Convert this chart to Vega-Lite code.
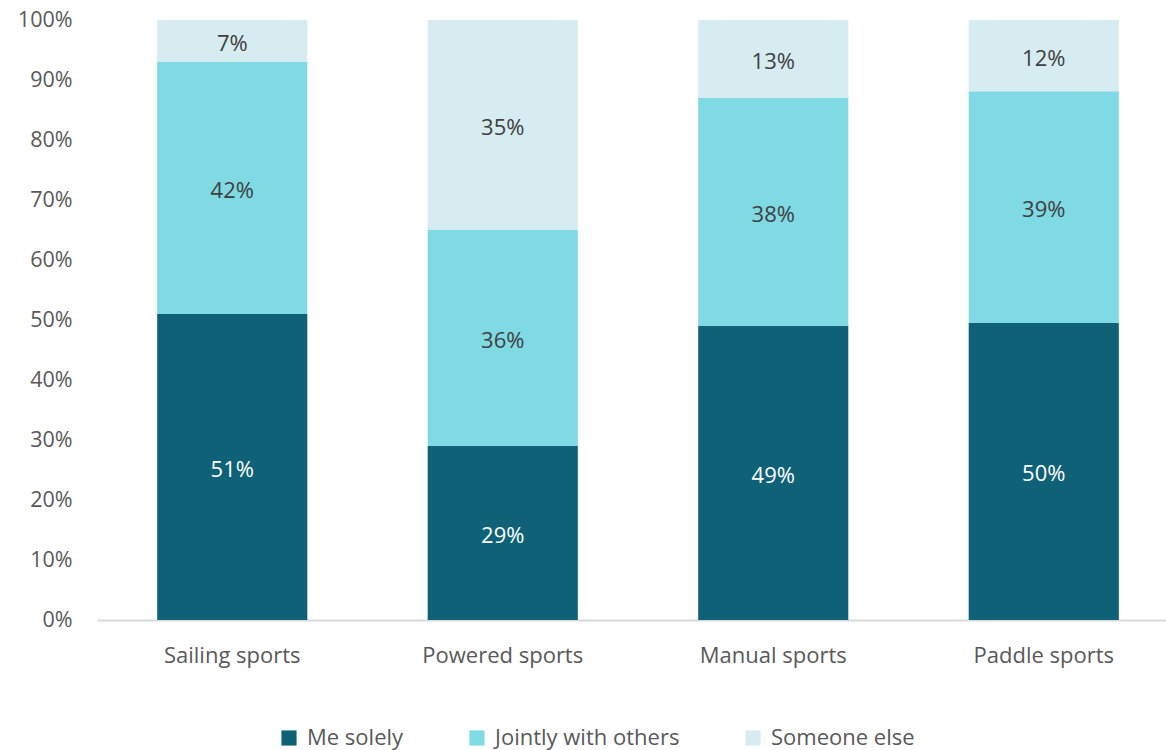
{
  "$schema": "https://vega.github.io/schema/vega-lite/v6.json",
  "width": 1082,
  "height": 600,
  "autosize": {"type": "none"},
  "padding": {"left": 97, "top": 20, "right": 0, "bottom": 130},
  "background": "white",
  "config": {
    "view": {"stroke": null},
    "font": "Open Sans"
  },
  "data": {
    "values": [
      {"sport": "Sailing sports", "who": "Me solely", "order": 1, "value": 51},
      {"sport": "Sailing sports", "who": "Jointly with others", "order": 2, "value": 42},
      {"sport": "Sailing sports", "who": "Someone else", "order": 3, "value": 7},
      {"sport": "Powered sports", "who": "Me solely", "order": 1, "value": 29},
      {"sport": "Powered sports", "who": "Jointly with others", "order": 2, "value": 36},
      {"sport": "Powered sports", "who": "Someone else", "order": 3, "value": 35},
      {"sport": "Manual sports", "who": "Me solely", "order": 1, "value": 49},
      {"sport": "Manual sports", "who": "Jointly with others", "order": 2, "value": 38},
      {"sport": "Manual sports", "who": "Someone else", "order": 3, "value": 13},
      {"sport": "Paddle sports", "who": "Me solely", "order": 1, "value": 50},
      {"sport": "Paddle sports", "who": "Jointly with others", "order": 2, "value": 39},
      {"sport": "Paddle sports", "who": "Someone else", "order": 3, "value": 12}
    ]
  },
  "transform": [
    {"stack": "value", "groupby": ["sport"], "sort": [{"field": "order"}], "offset": "normalize", "as": ["y0", "y1"]},
    {"calculate": "(datum.y0 + datum.y1) / 2", "as": "ymid"},
    {"calculate": "datum.value + '%'", "as": "lbl"}
  ],
  "encoding": {
    "x": {
      "field": "sport",
      "type": "nominal",
      "sort": ["Sailing sports", "Powered sports", "Manual sports", "Paddle sports"],
      "scale": {"paddingInner": 0.445, "paddingOuter": 0.2225},
      "axis": {
        "title": null,
        "labelAngle": 0,
        "labelFontSize": 22,
        "labelColor": "#595959",
        "labelPadding": 25,
        "ticks": false,
        "domainColor": "#d9d9d9",
        "domainWidth": 2
      }
    }
  },
  "layer": [
    {
      "mark": {"type": "bar"},
      "encoding": {
        "y": {
          "field": "y0",
          "type": "quantitative",
          "scale": {"domain": [0, 1]},
          "axis": {
            "title": null,
            "format": ".0%",
            "values": [0, 0.1, 0.2, 0.3, 0.4, 0.5, 0.6, 0.7, 0.8, 0.9, 1],
            "labelFontSize": 21.5,
            "labelColor": "#595959",
            "labelPadding": 25,
            "ticks": false,
            "domain": false,
            "grid": false
          }
        },
        "y2": {"field": "y1"},
        "color": {
          "field": "who",
          "type": "nominal",
          "sort": ["Me solely", "Jointly with others", "Someone else"],
          "scale": {
            "domain": ["Me solely", "Jointly with others", "Someone else"],
            "range": ["#0e6176", "#7fdae4", "#d7ecf1"]
          },
          "legend": {
            "title": null,
            "orient": "none",
            "direction": "horizontal",
            "legendX": 181,
            "legendY": 707,
            "symbolType": "square",
            "symbolSize": 230,
            "symbolStrokeWidth": 0,
            "labelFontSize": 22,
            "labelColor": "#595959",
            "labelOffset": 7,
            "labelLimit": 0,
            "columnPadding": 62
          }
        }
      }
    },
    {
      "mark": {"type": "text", "fontSize": 22, "baseline": "middle", "dy": 3},
      "encoding": {
        "y": {"field": "ymid", "type": "quantitative"},
        "text": {"field": "lbl"},
        "color": {
          "condition": {"test": "datum.who === 'Me solely'", "value": "#ffffff"},
          "value": "#404040"
        }
      }
    }
  ]
}
